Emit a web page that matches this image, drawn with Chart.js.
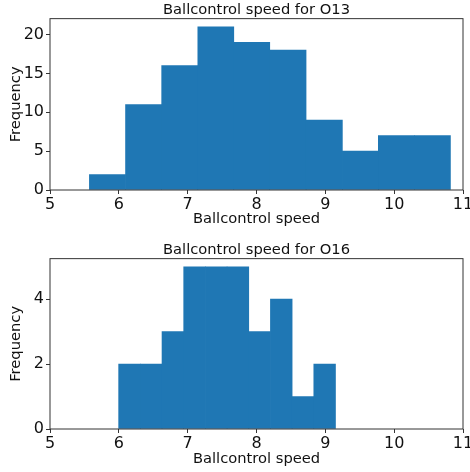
<!DOCTYPE html>
<html>
<head>
<meta charset="utf-8">
<script src="https://cdn.jsdelivr.net/npm/chart.js@4"></script>
<style>
  body { margin: 0; background: #fff; }
  canvas { position: absolute; left: 0; }
</style>
</head>
<body>
<canvas id="o13Chart" width="470" height="240" style="top:0px"></canvas>
<canvas id="o16Chart" width="470" height="232" style="top:240px"></canvas>
<script>
// histogram bin edges and counts
const xTicks = [5, 6, 7, 8, 9, 10, 11];
const o13Edges = [5.57, 6.10, 6.62, 7.15, 7.67, 8.19, 8.72, 9.25, 9.77, 10.29, 10.82];
const o13Counts = [2, 11, 16, 21, 19, 18, 9, 5, 7, 7];
const o13YTicks = [0, 5, 10, 15, 20];
const o16Edges = [6.00, 6.31, 6.63, 6.94, 7.26, 7.57, 7.89, 8.20, 8.52, 8.83, 9.15];
const o16Counts = [2, 2, 3, 5, 5, 5, 3, 4, 1, 2];
const o16YTicks = [0, 2, 4];

Chart.defaults.font.family = 'DejaVu Sans';
Chart.defaults.color = '#111';

const framePlugin = {
    id: 'frame',
    afterDatasetsDraw(chart) {
        const { ctx, chartArea: a } = chart;
        ctx.save();
        ctx.strokeStyle = '#333';
        ctx.lineWidth = 1;
        ctx.strokeRect(a.left, a.top, a.right - a.left, a.bottom - a.top);
        ctx.restore();
    }
};

function binData(edges, counts) {
    return counts.map((c, i) => ({ x: (edges[i] + edges[i + 1]) / 2, y: c }));
}

function histChart(id, title, edges, counts, yTicks, yMax, xAxisHeight, xTitlePad) {
    const ctx = document.getElementById(id).getContext('2d');
    return new Chart(ctx, {
        type: 'bar',
        data: {
            datasets: [{
                data: binData(edges, counts),
                backgroundColor: '#1f77b4',
                borderWidth: 0,
                barThickness: 'flex',
                barPercentage: 1,
                categoryPercentage: 1
            }]
        },
        options: {
            responsive: false,
            animation: false,
            layout: { padding: { left: 0, right: 7, top: 0, bottom: 0 } },
            plugins: {
                legend: { display: false },
                tooltip: { enabled: false },
                title: {
                    display: true,
                    text: title,
                    fullSize: false,
                    font: { size: 14.7, weight: 'normal' },
                    color: '#111',
                    padding: { top: 1, bottom: 0 }
                }
            },
            scales: {
                x: {
                    type: 'linear',
                    min: 5,
                    max: 11,
                    offset: false,
                    afterBuildTicks: s => { s.ticks = xTicks.map(v => ({ value: v })); },
                    afterFit: s => { s.height = xAxisHeight; s.paddingLeft = 0; s.paddingRight = 0; },
                    ticks: { font: { size: 16 }, padding: 1, maxRotation: 0 },
                    grid: { offset: false, drawOnChartArea: false, tickLength: 4, color: '#333' },
                    border: { display: false },
                    title: {
                        display: true,
                        text: 'Ballcontrol speed',
                        font: { size: 14.7 },
                        padding: { top: 0, bottom: xTitlePad }
                    }
                },
                y: {
                    min: 0,
                    max: yMax,
                    afterBuildTicks: s => { s.ticks = yTicks.map(v => ({ value: v })); },
                    afterFit: s => { s.width = 50; s.paddingTop = 0; s.paddingBottom = 0; },
                    ticks: { font: { size: 16 }, padding: 2 },
                    grid: { drawOnChartArea: false, tickLength: 4, color: '#333' },
                    border: { display: false },
                    title: {
                        display: true,
                        text: 'Frequency',
                        font: { size: 14.7 },
                        padding: { top: 7, bottom: 0 }
                    }
                }
            }
        },
        plugins: [framePlugin]
    });
}

histChart('o13Chart', 'Ballcontrol speed for O13', o13Edges, o13Counts, o13YTicks, 22.05, 50, 12);
histChart('o16Chart', 'Ballcontrol speed for O16', o16Edges, o16Counts, o16YTicks, 5.25, 43, 4);
</script>
</body>
</html>
